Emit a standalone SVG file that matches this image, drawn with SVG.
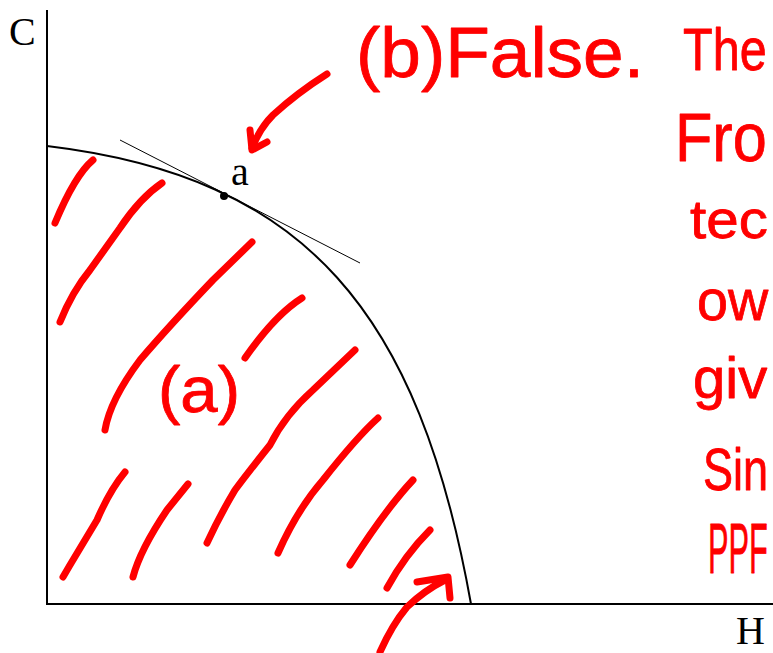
<svg xmlns="http://www.w3.org/2000/svg" width="773" height="653" viewBox="0 0 773 653">
<style>
.ax{stroke:#000;stroke-width:2;fill:none}
.thin{stroke:#000;stroke-width:1;fill:none}
.lbl{font-family:"Liberation Serif","Times New Roman",serif;font-size:40px;fill:#000}
.red{stroke:#ff0000;stroke-width:7;fill:none;stroke-linecap:round;stroke-linejoin:round}
.hw{font-family:"Liberation Sans",Arial,sans-serif;fill:#ff0000;stroke:#ff0000;stroke-width:0.8;stroke-linejoin:round}
</style>
<rect width="773" height="653" fill="#fff"/>
<g id="axes">
<path class="ax" d="M47,10 L47,604 L773,604"/>
<text class="lbl" x="9" y="45">C</text>
<text class="lbl" x="736" y="644">H</text>
</g>
<g id="ppf">
<path class="ax" d="M47,146 C307,177 419,313 471,604"/>
</g>
<g id="point-a">
<line class="thin" x1="120" y1="140" x2="360" y2="263"/>
<circle cx="224" cy="196" r="4" fill="#000"/>
<text class="lbl" x="231" y="185">a</text>
</g>
<g id="hatching">
<path class="red" d="M93,160 Q75,175 55,223"/>
<path class="red" d="M162,183 Q140,198 120,228 L90,270 Q72,292 60,322"/>
<path class="red" d="M252,242 L213,280 Q170,325 140,360 Q110,400 105,430"/>
<path class="red" d="M302,298 Q275,315 245,358"/>
<path class="red" d="M355,350 L313,390 Q285,415 270,445 Q250,470 235,490 Q220,515 207,543"/>
<path class="red" d="M378,418 Q357,437 323,480 Q297,510 278,553"/>
<path class="red" d="M413,480 Q385,510 350,565"/>
<path class="red" d="M430,530 Q405,555 387,588"/>
<path class="red" d="M125,472 Q110,490 97,520 L70,565 L63,577"/>
<path class="red" d="M188,484 L167,510 Q140,550 133,577"/>
</g>
<g id="label-a-region">
<text class="hw" x="158" y="412" font-size="64" textLength="82" lengthAdjust="spacingAndGlyphs">(a)</text>
</g>
<g id="arrows">
<path class="red" d="M327,74 Q297,93 273,115 Q260,128 252,148"/>
<path class="red" d="M250,130 L252,150 L267,142"/>
<path class="red" d="M380,652 Q392,625 407,607 Q425,590 445,580"/>
<path class="red" d="M417,582 L448,577 L450,598"/>
</g>
<g id="note">
<text class="hw" x="356" y="77" font-size="70" textLength="288" lengthAdjust="spacingAndGlyphs">(b)False.</text>
<text class="hw" transform="translate(683,70) scale(0.81,1)" font-size="60">The</text>
<text class="hw" transform="translate(675,161) scale(0.9,1)" font-size="68">Fro</text>
<text class="hw" transform="translate(690,238) scale(1.08,1)" font-size="54">tec</text>
<text class="hw" transform="translate(697,320) scale(0.96,1)" font-size="58">ow</text>
<text class="hw" transform="translate(693,398) scale(1.0,1)" font-size="58">giv</text>
<text class="hw" transform="translate(703,490) scale(0.75,1)" font-size="60">Sin</text>
<text class="hw" transform="translate(708,573) scale(0.44,1)" font-size="70">PPF</text>
</g>
</svg>
